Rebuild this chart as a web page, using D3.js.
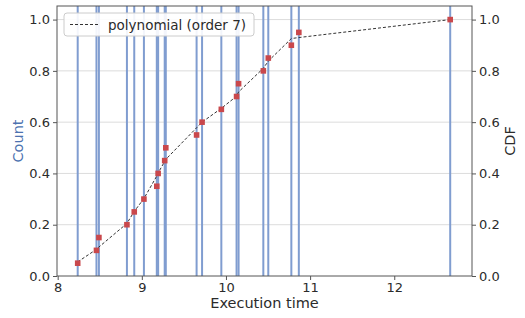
<!DOCTYPE html>
<html>
<head>
<meta charset="utf-8">
<script src="https://cdn.jsdelivr.net/npm/d3@7"></script>
<style>
    body { margin: 0; background: #fff; }
    svg text { font-family: "DejaVu Sans", sans-serif; fill: #2b2b2b; }
</style>
</head>
<body>
<svg width="525" height="318"></svg>
<script>
// sorted execution times (one histogram bar each)
let execTimes = [8.238, 8.461, 8.490, 8.823, 8.910, 9.025, 9.178, 9.194, 9.272, 9.285,
    9.651, 9.716, 9.945, 10.126, 10.150, 10.444, 10.503, 10.777, 10.866, 12.665];
// empirical CDF at each time
let cdfValues = [0.05, 0.10, 0.15, 0.20, 0.25, 0.30, 0.35, 0.40, 0.45, 0.50,
    0.55, 0.60, 0.65, 0.70, 0.75, 0.80, 0.85, 0.90, 0.95, 1.00];
// order-7 polynomial fit evaluated at each time
let fitValues = [0.055, 0.104, 0.113, 0.205, 0.252, 0.302, 0.390, 0.402, 0.447, 0.455,
    0.578, 0.600, 0.654, 0.701, 0.718, 0.810, 0.838, 0.926, 0.930, 1.000];
let xTicks = [8, 9, 10, 11, 12];
let yTicks = [0, 0.2, 0.4, 0.6, 0.8, 1.0];

let svg = d3.select("svg"),
    margin = {top: 6, right: 53, bottom: 42, left: 57},
    width = +svg.attr("width") - margin.left - margin.right,
    height = +svg.attr("height") - margin.top - margin.bottom;

let x = d3.scaleLinear().domain([7.992, 12.924]).range([0, width]),
    y = d3.scaleLinear().domain([0, 1.053]).range([height, 0]);

svg.append("defs").append("clipPath")
    .attr("id", "clip")
    .append("rect")
    .attr("width", width)
    .attr("height", height);

let g = svg.append("g")
    .attr("transform", "translate(" + margin.left + "," + margin.top + ")");

// horizontal grid
g.append("g")
    .selectAll("line")
    .data(yTicks.slice(1))
    .join("line")
    .attr("x1", 0)
    .attr("x2", width)
    .attr("y1", d => y(d))
    .attr("y2", d => y(d))
    .attr("stroke", "#dcdcdc")
    .attr("stroke-width", 1);

// histogram bars (counts exceed the visible range, so clipped at the top)
g.append("g")
    .attr("clip-path", "url(#clip)")
    .selectAll("rect")
    .data(execTimes)
    .join("rect")
    .attr("x", d => x(d) - 1)
    .attr("width", 2)
    .attr("y", y(y.domain()[1]))
    .attr("height", y(0) - y(y.domain()[1]))
    .attr("fill", "#809dd0");

// fitted polynomial
let fitLine = d3.line()
    .x((d, i) => x(execTimes[i]))
    .y(d => y(d));

g.append("path")
    .datum(fitValues)
    .attr("d", fitLine)
    .attr("fill", "none")
    .attr("stroke", "#333")
    .attr("stroke-width", 1)
    .attr("stroke-dasharray", "3,2");

// CDF points
g.append("g")
    .selectAll("rect")
    .data(cdfValues)
    .join("rect")
    .attr("x", (d, i) => x(execTimes[i]) - 2.8)
    .attr("y", d => y(d) - 2.8)
    .attr("width", 5.6)
    .attr("height", 5.6)
    .attr("fill", "#c9484c");

// frame
g.append("rect")
    .attr("width", width)
    .attr("height", height)
    .attr("fill", "none")
    .attr("stroke", "#555")
    .attr("stroke-width", 1);

// axes
let styleAxis = sel => {
    sel.select(".domain").remove();
    sel.selectAll(".tick line").attr("stroke", "#555");
    sel.selectAll(".tick text").attr("font-size", 13).style("fill", "#2b2b2b");
};

g.append("g")
    .attr("transform", "translate(0," + height + ")")
    .call(d3.axisBottom(x).tickValues(xTicks).tickFormat(d3.format("d")).tickSize(4).tickPadding(3))
    .call(styleAxis);

g.append("g")
    .call(d3.axisLeft(y).tickValues(yTicks).tickFormat(d3.format(".1f")).tickSize(4).tickPadding(3))
    .call(styleAxis);

g.append("g")
    .attr("transform", "translate(" + width + ",0)")
    .call(d3.axisRight(y).tickValues(yTicks).tickFormat(d3.format(".1f")).tickSize(4).tickPadding(3))
    .call(styleAxis);

// axis titles
svg.append("text")
    .attr("x", margin.left + width / 2)
    .attr("y", 308)
    .attr("text-anchor", "middle")
    .attr("font-size", 14.5)
    .text("Execution time");

svg.append("text")
    .attr("transform", "translate(23," + (margin.top + height / 2) + ") rotate(-90)")
    .attr("text-anchor", "middle")
    .attr("font-size", 14.5)
    .style("fill", "#4c72b0")
    .text("Count");

svg.append("text")
    .attr("transform", "translate(515," + (margin.top + height / 2) + ") rotate(-90)")
    .attr("text-anchor", "middle")
    .attr("font-size", 14.5)
    .text("CDF");

// legend
let legend = svg.append("g")
    .attr("transform", "translate(64,13)");

legend.append("rect")
    .attr("width", 190)
    .attr("height", 23)
    .attr("rx", 3)
    .attr("fill", "#fff")
    .attr("fill-opacity", 0.9)
    .attr("stroke", "#ccc");

legend.append("line")
    .attr("x1", 6)
    .attr("x2", 34)
    .attr("y1", 11.5)
    .attr("y2", 11.5)
    .attr("stroke", "#333")
    .attr("stroke-width", 1)
    .attr("stroke-dasharray", "3,2");

legend.append("text")
    .attr("x", 44)
    .attr("y", 16.5)
    .attr("font-size", 13.5)
    .text("polynomial (order 7)");
</script>
</body>
</html>
